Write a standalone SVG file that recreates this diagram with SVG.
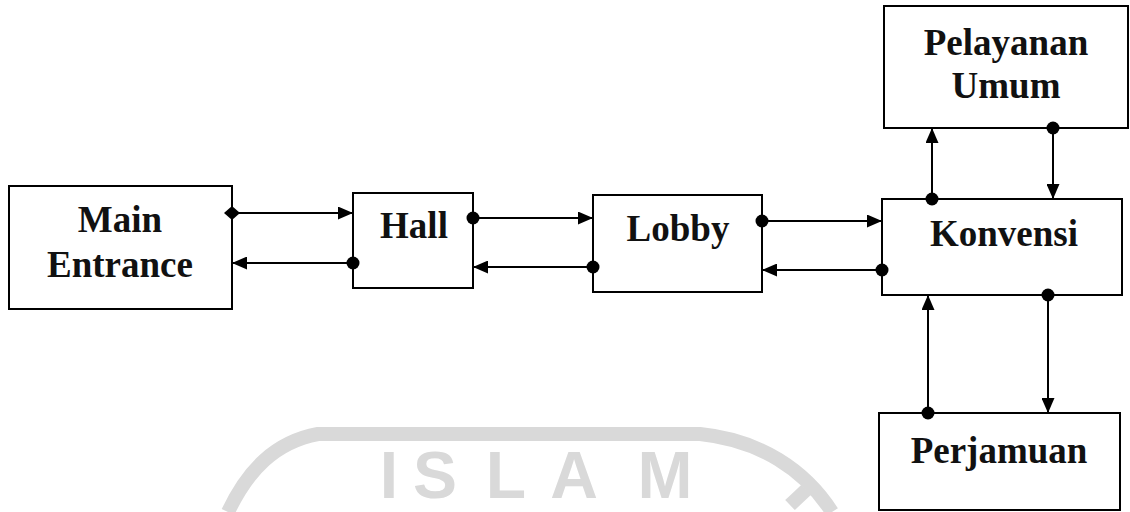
<svg xmlns="http://www.w3.org/2000/svg" width="1130" height="512" viewBox="0 0 1130 512">
  <style>
    .box { fill: #fff; stroke: #000; stroke-width: 2; }
    .label { font-family: "Liberation Serif", "Times New Roman", serif; font-weight: bold; font-size: 37px; fill: #111; text-anchor: middle; }
    .link { fill: none; stroke: #000; stroke-width: 2; }
    .mark-line { fill: none; stroke: #d9d9d9; stroke-width: 14; }
    .mark-text { font-family: "Liberation Sans", Arial, sans-serif; font-weight: bold; font-size: 66px; fill: #d9d9d9; text-anchor: middle; }
  </style>
  <defs>
    <marker id="arrow" markerUnits="userSpaceOnUse" markerWidth="15" markerHeight="13" refX="15" refY="6.5" orient="auto">
      <path d="M0,0 L15,6.5 L0,13 Z" fill="#000"/>
    </marker>
    <marker id="dot" markerUnits="userSpaceOnUse" markerWidth="14" markerHeight="14" refX="7" refY="7" orient="auto">
      <circle cx="7" cy="7" r="6.5" fill="#000"/>
    </marker>
    <marker id="diamond" markerUnits="userSpaceOnUse" markerWidth="16" markerHeight="14" refX="8" refY="7" orient="auto">
      <path d="M0,7 L8,0 L16,7 L8,14 Z" fill="#000"/>
    </marker>
  </defs>

  <!-- background watermark -->
  <g id="watermark">
    <path class="mark-line" d="M228,512 C248,470 275,442 318,434 L700,434 C760,440 805,470 832,512"/>
    <path class="mark-line" d="M790,505 L806,490" stroke-width="10"/>
    <text class="mark-text" x="389" y="498">I</text>
    <text class="mark-text" x="435" y="498">S</text>
    <text class="mark-text" x="506" y="498">L</text>
    <text class="mark-text" x="574" y="498">A</text>
    <text class="mark-text" x="665" y="498">M</text>
  </g>

  <g id="main-entrance">
    <rect class="box" x="9" y="186" width="223" height="123"/>
    <text class="label" x="120" y="232">Main</text>
    <text class="label" x="120" y="277">Entrance</text>
  </g>

  <g id="hall">
    <rect class="box" x="353" y="193" width="120" height="95"/>
    <text class="label" x="414" y="238">Hall</text>
  </g>

  <g id="lobby">
    <rect class="box" x="593" y="195" width="169" height="97"/>
    <text class="label" x="678" y="241">Lobby</text>
  </g>

  <g id="konvensi">
    <rect class="box" x="882" y="199" width="240" height="96"/>
    <text class="label" x="1004" y="246">Konvensi</text>
  </g>

  <g id="pelayanan-umum">
    <rect class="box" x="884" y="6" width="244" height="122"/>
    <text class="label" x="1006" y="55">Pelayanan</text>
    <text class="label" x="1006" y="98">Umum</text>
  </g>

  <g id="perjamuan">
    <rect class="box" x="879" y="413" width="241" height="97"/>
    <text class="label" x="999" y="463">Perjamuan</text>
  </g>

  <g id="connectors">
    <path class="link" d="M232,213 L353,213" marker-start="url(#diamond)" marker-end="url(#arrow)"/>
    <path class="link" d="M353,263 L232,263" marker-start="url(#dot)" marker-end="url(#arrow)"/>
    <path class="link" d="M473,218 L593,218" marker-start="url(#dot)" marker-end="url(#arrow)"/>
    <path class="link" d="M593,267 L473,267" marker-start="url(#dot)" marker-end="url(#arrow)"/>
    <path class="link" d="M762,221 L882,221" marker-start="url(#dot)" marker-end="url(#arrow)"/>
    <path class="link" d="M882,270 L762,270" marker-start="url(#dot)" marker-end="url(#arrow)"/>
    <path class="link" d="M932,199 L932,128" marker-start="url(#dot)" marker-end="url(#arrow)"/>
    <path class="link" d="M1053,128 L1053,199" marker-start="url(#dot)" marker-end="url(#arrow)"/>
    <path class="link" d="M928,413 L928,295" marker-start="url(#dot)" marker-end="url(#arrow)"/>
    <path class="link" d="M1048,295 L1048,413" marker-start="url(#dot)" marker-end="url(#arrow)"/>
  </g>
</svg>
